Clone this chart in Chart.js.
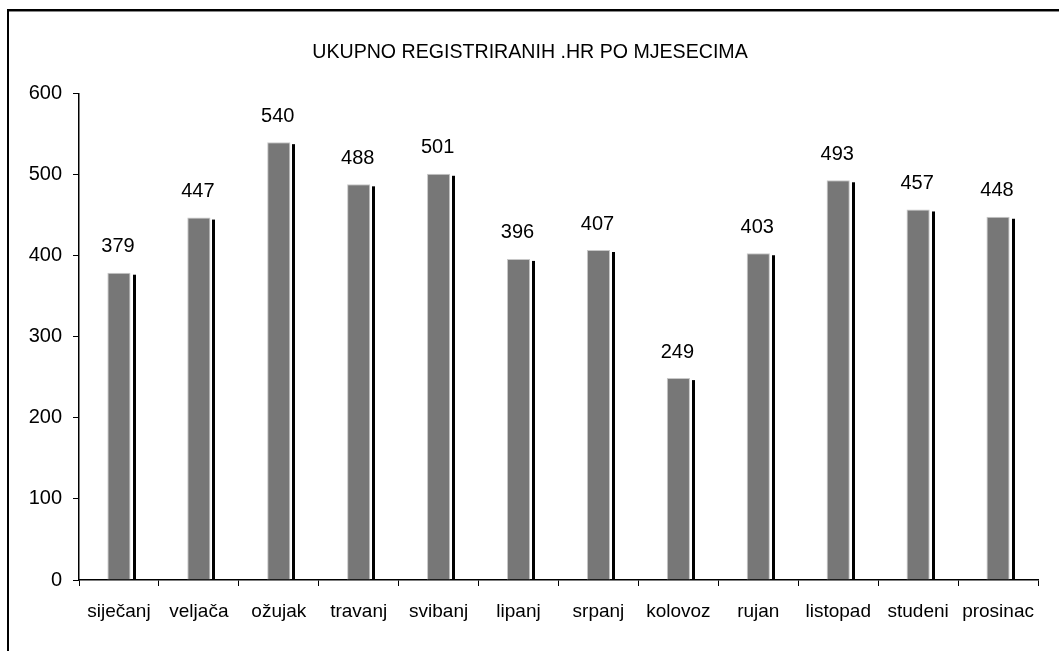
<!DOCTYPE html>
<html>
<head>
<meta charset="utf-8">
<title>UKUPNO REGISTRIRANIH .HR PO MJESECIMA</title>
<script src="https://cdn.jsdelivr.net/npm/chart.js@4.4.1/dist/chart.umd.min.js"></script>
<style>
    body { margin: 0; background: #fff; }
    #okvir { position: absolute; left: 7px; top: 9px; width: 1100px; height: 700px; border-left: 2px solid #000; border-top: 2px solid #000; box-shadow: inset 0 1px 0 #888; }
    #chartMjeseci { position: absolute; left: 0; top: 0; }
</style>
</head>
<body>
<div id="okvir"></div>
<canvas id="chartMjeseci" width="1059" height="651"></canvas>
<script>
var naslov = "UKUPNO REGISTRIRANIH .HR PO MJESECIMA";
var mjeseci = ["siječanj", "veljača", "ožujak", "travanj", "svibanj", "lipanj", "srpanj", "kolovoz", "rujan", "listopad", "studeni", "prosinac"];
var registrirano = [379, 447, 540, 488, 501, 396, 407, 249, 403, 493, 457, 448];
var yMin = 0, yMax = 600, yKorak = 100;

var font = "'Liberation Sans', Arial, sans-serif";

// crna sjena desno od stupca + brojke iznad stupaca
var sjenaIBrojke = {
    id: 'sjenaIBrojke',
    beforeDatasetsDraw: function (chart) {
        var ctx = chart.ctx;
        var meta = chart.getDatasetMeta(0);
        ctx.save();
        ctx.fillStyle = '#000';
        for (var i = 0; i < meta.data.length; i++) {
            var p = meta.data[i].getProps(['x', 'y', 'base', 'width'], true);
            var desno = p.x + p.width / 2;
            ctx.fillRect(Math.round(desno) + 2, p.y + 2, 3, p.base - p.y - 2);
        }
        ctx.restore();
    },
    afterDatasetsDraw: function (chart) {
        var ctx = chart.ctx;
        var meta = chart.getDatasetMeta(0);
        var podaci = chart.data.datasets[0].data;
        ctx.save();
        ctx.fillStyle = '#000';
        ctx.font = '20px ' + font;
        ctx.textAlign = 'center';
        ctx.textBaseline = 'middle';
        for (var i = 0; i < meta.data.length; i++) {
            var el = meta.data[i];
            ctx.fillText(podaci[i], el.x - 1, el.y - 26);
        }
        ctx.restore();
    }
};

var ctx1 = document.getElementById('chartMjeseci').getContext('2d');
var chartMjeseci = new Chart(ctx1, {
    type: 'bar',
    data: {
        labels: mjeseci,
        datasets: [{
            label: naslov,
            data: registrirano,
            backgroundColor: 'rgb(119, 119, 119)',
            borderColor: 'rgb(200, 200, 200)',
            borderWidth: 1,
            barPercentage: 0.29,
            categoryPercentage: 1
        }]
    },
    options: {
        responsive: false,
        devicePixelRatio: 1,
        animation: false,
        layout: {
            padding: { left: 22, right: 21, top: 0, bottom: 0 }
        },
        plugins: {
            legend: { display: false },
            tooltip: { enabled: false },
            title: {
                display: true,
                text: naslov,
                color: '#000',
                font: { family: font, size: 19.6, weight: 'normal', lineHeight: 1.2 },
                padding: { top: 41, bottom: 29 }
            }
        },
        scales: {
            x: {
                grid: { display: true, drawOnChartArea: false, offset: true, color: '#000', tickLength: 6 },
                border: { display: true, color: '#000', width: 1.5 },
                ticks: { color: '#000', font: { family: font, size: 19 }, padding: 14, maxRotation: 0, autoSkip: false },
                afterFit: function (scale) { scale.height = 71; }
            },
            y: {
                min: yMin,
                max: yMax,
                grid: { display: true, drawOnChartArea: false, color: '#000', tickLength: 6 },
                border: { display: true, color: '#000', width: 1.5 },
                ticks: { stepSize: yKorak, color: '#000', font: { family: font, size: 20 }, padding: 11 },
                afterFit: function (scale) { scale.width = 57; }
            }
        }
    },
    plugins: [sjenaIBrojke]
});
</script>
</body>
</html>
